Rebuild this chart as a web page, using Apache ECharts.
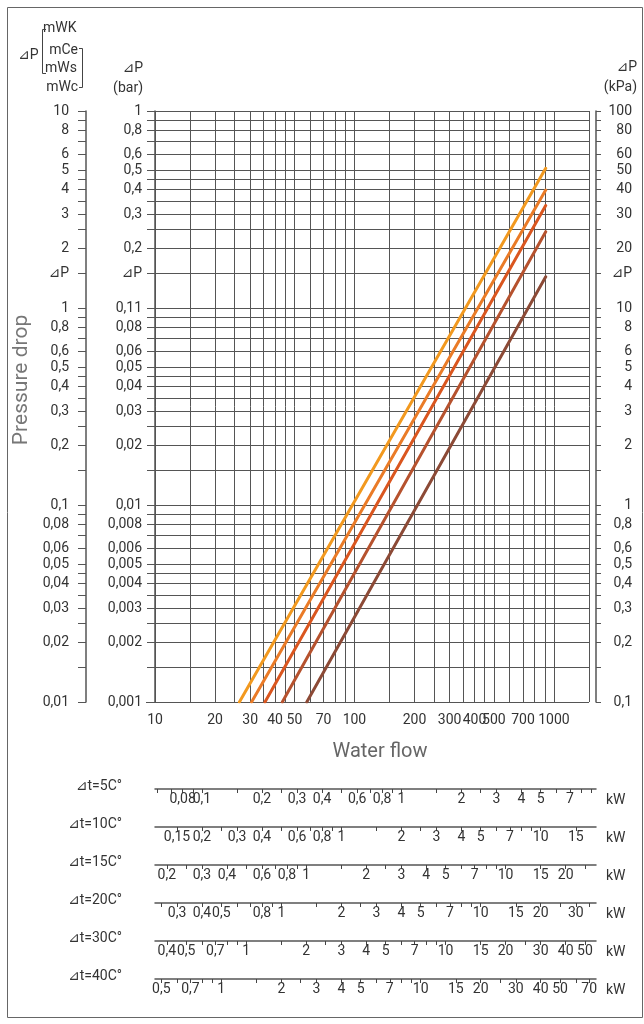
<!DOCTYPE html>
<html><head><meta charset="utf-8">
<script src="https://cdn.jsdelivr.net/npm/echarts@6/dist/echarts.min.js"></script>
<style>html,body{margin:0;padding:0;background:#fff}#c{width:644px;height:1024px}</style>
</head><body><div id="c"></div>
<script>
// ---------- data ----------
const flowRange = [10, 1500];
const flowLabels = [10, 20, 30, 40, 50, 70, 100, 200, 300, 400, 500, 700, 1000];
const flowGrid = [10, 15, 20, 25, 30, 35, 40, 45, 50, 60, 70, 80, 90, 100, 150, 200, 250, 300, 350, 400, 450, 500, 600, 700, 800, 900, 1000, 1500];
const barRange = [0.001, 1];
const barGrid = [1, 0.9, 0.8, 0.7, 0.6, 0.5, 0.45, 0.4, 0.35, 0.3, 0.25, 0.2, 0.15,
  0.1, 0.09, 0.08, 0.07, 0.06, 0.05, 0.045, 0.04, 0.035, 0.03, 0.025, 0.02, 0.015,
  0.01, 0.009, 0.008, 0.007, 0.006, 0.005, 0.0045, 0.004, 0.0035, 0.003, 0.0025, 0.002, 0.0015, 0.001];
const barLabelVals = [1, 0.8, 0.6, 0.5, 0.4, 0.3, 0.2, 0.15, 0.1, 0.08, 0.06, 0.05, 0.04, 0.03, 0.02, 0.01, 0.008, 0.006, 0.005, 0.004, 0.003, 0.002, 0.001];
const barLabelText = ['1', '0,8', '0,6', '0,5', '0,4', '0,3', '0,2', '⊿P', '0,11', '0,08', '0,06', '0,05', '0,04', '0,03', '0,02', '0,01', '0,008', '0,006', '0,005', '0,004', '0,003', '0,002', '0,001'];
const mwcLabelText = ['10', '8', '6', '5', '4', '3', '2', '⊿P', '1', '0,8', '0,6', '0,5', '0,4', '0,3', '0,2', '0,1', '0,08', '0,06', '0,05', '0,04', '0,03', '0,02', '0,01'];
const kpaLabelText = ['100', '80', '60', '50', '40', '30', '20', '⊿P', '10', '8', '6', '5', '4', '3', '2', '1', '0,8', '0,6', '0,5', '0,4', '0,3', '0,2', '0,1'];

// five curves: start (flow at 0.001 bar) and end point
const curveFlowStart = [26.5, 30.5, 35.6, 43.5, 57.7];
const curveBarStart = [0.001, 0.001, 0.001, 0.001, 0.001];
const curveFlowEnd = [910, 910, 910, 910, 910];
const curveBarEnd = [0.512, 0.397, 0.331, 0.244, 0.144];
const curveColors = ['#f2991f', '#ea7b27', '#da561f', '#b6522e', '#8c4a36'];

// kW scales (kW = flow * dt / 860)
const deltaT = [5, 10, 15, 20, 30, 40];
const deltaTText = ['⊿t=5C°', '⊿t=10C°', '⊿t=15C°', '⊿t=20C°', '⊿t=30C°', '⊿t=40C°'];
const kwLabels = [
  [0.08, 0.1, 0.2, 0.3, 0.4, 0.6, 0.8, 1, 2, 3, 4, 5, 7],
  [0.15, 0.2, 0.3, 0.4, 0.6, 0.8, 1, 2, 3, 4, 5, 7, 10, 15],
  [0.2, 0.3, 0.4, 0.6, 0.8, 1, 2, 3, 4, 5, 7, 10, 15, 20],
  [0.3, 0.4, 0.5, 0.8, 1, 2, 3, 4, 5, 7, 10, 15, 20, 30],
  [0.4, 0.5, 0.7, 1, 2, 3, 4, 5, 7, 10, 15, 20, 30, 40, 50],
  [0.5, 0.7, 1, 2, 3, 4, 5, 7, 10, 15, 20, 30, 40, 50, 70]
];
const kwTicks = [
  [0.06, 0.07, 0.08, 0.09, 0.1, 0.15, 0.2, 0.25, 0.3, 0.4, 0.5, 0.6, 0.7, 0.8, 0.9, 1, 1.5, 2, 2.5, 3, 4, 5, 6, 7, 8, 9],
  [0.15, 0.2, 0.25, 0.3, 0.4, 0.5, 0.6, 0.7, 0.8, 0.9, 1, 1.5, 2, 2.5, 3, 4, 5, 6, 7, 8, 9, 10, 15],
  [0.2, 0.25, 0.3, 0.4, 0.5, 0.6, 0.7, 0.8, 0.9, 1, 1.5, 2, 2.5, 3, 4, 5, 6, 7, 8, 9, 10, 15, 20, 25],
  [0.25, 0.3, 0.4, 0.5, 0.6, 0.7, 0.8, 0.9, 1, 1.5, 2, 2.5, 3, 4, 5, 6, 7, 8, 9, 10, 15, 20, 25, 30, 35],
  [0.4, 0.5, 0.6, 0.7, 0.8, 0.9, 1, 1.5, 2, 2.5, 3, 4, 5, 6, 7, 8, 9, 10, 15, 20, 25, 30, 40, 50],
  [0.5, 0.6, 0.7, 0.8, 0.9, 1, 1.5, 2, 2.5, 3, 4, 5, 6, 7, 8, 9, 10, 15, 20, 25, 30, 40, 50, 60, 70]
];
const kwFlowEnd = 1628;

// ---------- build ----------
const L = Math.log10;
const FONT = 'Roboto, "DejaVu Sans", sans-serif';
const TXT = '#333';
const GRID_COLOR = '#555';
const fmt = (vals, texts) => v => {
  for (let i = 0; i < vals.length; i++) if (Math.abs(L(vals[i]) - v) < 1e-6) return texts[i];
  return '';
};
const lab = (o) => Object.assign({fontFamily: FONT, fontSize: 14, color: TXT, showMinLabel: true, showMaxLabel: true, hideOverlap: false}, o);

const grids = [{left: 155, top: 111, width: 434, height: 591, outerBoundsMode: 'none', containLabel: false}];
const xAxes = [{
  gridIndex: 0, type: 'value', min: L(flowRange[0]), max: L(flowRange[1]), position: 'bottom',
  axisLine: {show: true, lineStyle: {color: '#555', width: 1}},
  axisTick: {show: true, customValues: flowGrid.map(L), length: 8, lineStyle: {color: '#555'}},
  axisLabel: lab({customValues: flowLabels.map(L), margin: 11, formatter: fmt(flowLabels, flowLabels.map(String))}),
  splitLine: {show: true, lineStyle: {color: GRID_COLOR, width: 1}}
}];
const yAxes = [
  {gridIndex: 0, type: 'value', min: L(barRange[0]), max: L(barRange[1]), position: 'left', offset: 0,
    axisLine: {show: true, lineStyle: {color: '#555', width: 1.5}},
    axisTick: {show: true, customValues: barGrid.map(L), length: 8, lineStyle: {color: '#555'}},
    axisLabel: lab({customValues: barLabelVals.map(L), margin: 13, formatter: fmt(barLabelVals, barLabelText)}),
    splitLine: {show: true, lineStyle: {color: GRID_COLOR, width: 1}}},
  {gridIndex: 0, type: 'value', min: L(barRange[0]), max: L(barRange[1]), position: 'left', offset: 69,
    axisLine: {show: true, lineStyle: {color: '#555', width: 1.5}},
    axisTick: {show: true, customValues: barGrid.map(L), length: 8, lineStyle: {color: '#555'}},
    axisLabel: lab({customValues: barLabelVals.map(L), margin: 17, formatter: fmt(barLabelVals, mwcLabelText)}),
    splitLine: {show: false}},
  {gridIndex: 0, type: 'value', min: L(barRange[0]), max: L(barRange[1]), position: 'right', offset: 7,
    axisLine: {show: true, lineStyle: {color: '#555', width: 1.5}},
    axisTick: {show: true, customValues: barGrid.map(L), length: 5, lineStyle: {color: '#555'}},
    axisLabel: lab({customValues: barLabelVals.map(L), margin: 36, align: 'right', formatter: fmt(barLabelVals, kpaLabelText)}),
    splitLine: {show: false}}
];

const rowLineY = [789, 827, 865, 903, 941, 979];
const graphics = [];
deltaT.forEach((dt, i) => {
  const gi = i + 1;
  grids.push({left: 155, top: rowLineY[i] - 1, width: 441, height: 1, outerBoundsMode: 'none', containLabel: false});
  const texts = kwLabels[i].map(v => String(v).replace('.', ','));
  const f = fmt(kwLabels[i], texts);
  const evenVals = kwLabels[i].filter((v, k) => k % 2 === 0);
  const oddVals = kwLabels[i].filter((v, k) => k % 2 === 1);
  const range = {min: L(flowRange[0] * dt / 860), max: L(kwFlowEnd * dt / 860)};
  // axis with line, ticks and every other label
  xAxes.push(Object.assign({
    gridIndex: gi, type: 'value', position: 'bottom',
    axisLine: {show: true, lineStyle: {color: '#555', width: 1.5}},
    axisTick: {show: true, customValues: kwTicks[i].map(L), length: 4, lineStyle: {color: '#444'}},
    axisLabel: lab({customValues: evenVals.map(L), margin: 3, formatter: f}),
    splitLine: {show: false}
  }, range));
  // same scale, remaining labels only
  xAxes.push(Object.assign({
    gridIndex: gi, type: 'value', position: 'bottom',
    axisLine: {show: false}, axisTick: {show: false},
    axisLabel: lab({customValues: oddVals.map(L), margin: 3, formatter: f}),
    splitLine: {show: false}
  }, range));
  yAxes.push({gridIndex: gi, type: 'value', min: 0, max: 1, show: false});
  graphics.push({type: 'text', x: 122, y: rowLineY[i] - 3, style: {text: deltaTText[i], font: '14px ' + FONT, fill: TXT, align: 'right', verticalAlign: 'middle'}});
  graphics.push({type: 'text', x: 606, y: rowLineY[i] + 11, style: {text: 'kW', font: '14px ' + FONT, fill: TXT, align: 'left', verticalAlign: 'middle'}});
});

const series = curveFlowStart.map((f, i) => ({
  type: 'line', xAxisIndex: 0, yAxisIndex: 0, symbol: 'none', silent: true, z: 5,
  lineStyle: {color: curveColors[i], width: 3, cap: 'round'},
  data: [[L(f), L(curveBarStart[i])], [L(curveFlowEnd[i]), L(curveBarEnd[i])]]
}));

const t = (text, x, y, align, extra) => Object.assign({type: 'text', x, y, style: {text, font: '14px ' + FONT, fill: TXT, align, verticalAlign: 'middle'}}, extra || {});
graphics.push(
  {type: 'rect', shape: {x: 7.5, y: 7.5, width: 635, height: 1010}, style: {fill: 'none', stroke: '#666', lineWidth: 1}},
  {type: 'line', shape: {x1: 146, y1: 702.5, x2: 155, y2: 702.5}, style: {stroke: '#555', lineWidth: 1}},
  t('mWK', 43, 28, 'left'), t('⊿P', 18, 55, 'left'), t('mCe', 78, 50, 'right'), t('mWs', 45, 68, 'left'), t('mWc', 78, 87, 'right'),
  {type: 'polyline', shape: {points: [[46, 29.5], [42.5, 29.5], [42.5, 73.5], [46, 73.5]]}, style: {fill: 'none', stroke: '#444', lineWidth: 1}},
  {type: 'polyline', shape: {points: [[79, 48.5], [82.5, 48.5], [82.5, 87.5], [79, 87.5]]}, style: {fill: 'none', stroke: '#444', lineWidth: 1}},
  t('⊿P', 143, 68, 'right'), t('(bar)', 143, 88, 'right'),
  t('⊿P', 637, 67, 'right'), t('(kPa)', 637, 87, 'right'),
  {type: 'text', x: 22, y: 380, rotation: Math.PI / 2, style: {text: 'Pressure drop', font: '21px ' + FONT, fill: '#777', align: 'center', verticalAlign: 'middle'}},
  {type: 'text', x: 380, y: 752, style: {text: 'Water flow', font: '20px ' + FONT, fill: '#666', align: 'center', verticalAlign: 'middle'}}
);

const chart = echarts.init(document.getElementById('c'), null, {renderer: 'canvas', width: 644, height: 1024});
chart.setOption({
  animation: false,
  backgroundColor: '#fff',
  grid: grids, xAxis: xAxes, yAxis: yAxes, series: series, graphic: graphics
});
</script></body></html>
